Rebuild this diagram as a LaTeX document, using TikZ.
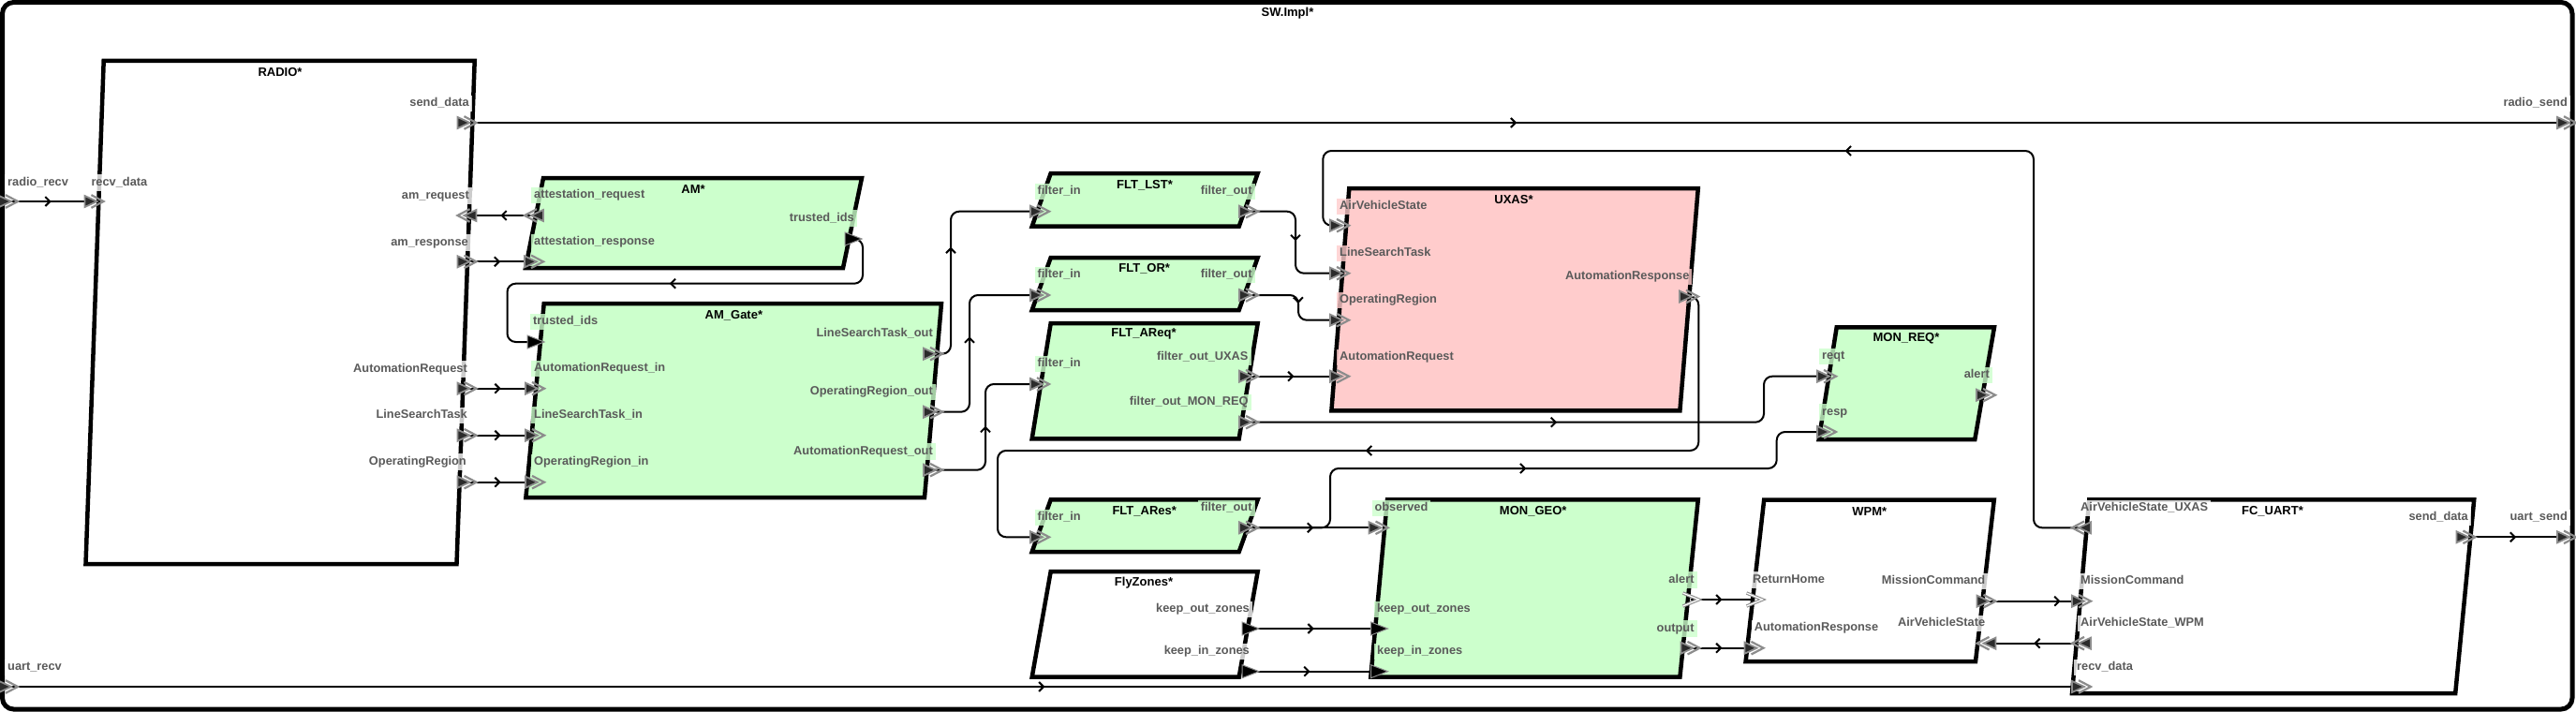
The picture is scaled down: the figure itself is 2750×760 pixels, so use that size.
\documentclass[tikz,border=0pt]{standalone}
\usepackage{fontspec}
\setmainfont{Liberation Sans}
\usetikzlibrary{arrows.meta,decorations.markings}
\definecolor{boxgreen}{HTML}{CCFFCC}
\definecolor{boxpink}{HTML}{FFCCCC}
\definecolor{labgray}{HTML}{5A5A5A}
\definecolor{portgray}{HTML}{8C8C8C}
\definecolor{portdark}{HTML}{2B2B2B}
\tikzset{
  comp/.style={draw=black, line width=4.5pt, line join=miter, fill=#1},
  ttl/.style={font=\fontsize{13}{15}\selectfont\bfseries, text=black, inner sep=0pt},
  plab/.style={font=\fontsize{12.8}{14}\selectfont\bfseries, text=labgray, fill=#1, fill opacity=0.8, text opacity=1, inner xsep=3pt, inner ysep=2.5pt, text height=9.5pt, text depth=3pt},
  labL/.style={plab=#1, anchor=west, xshift=-3pt},
  labR/.style={plab=#1, anchor=east, xshift=3pt},
  conn/.style={draw=black, line width=2pt, rounded corners=9pt},
  amark/.style={postaction={decorate, decoration={markings, mark=at position #1 with {\arrow{Straight Barb[length=5pt,width=10pt]}}}}},
  amark/.default=0.5,
  edp/.pic={
    \filldraw[fill=portdark, draw=portgray, line width=1.8pt, line join=miter] (-10,-6) -- (3,0) -- (-10,6) -- cycle;
    \draw[portgray, line width=2.2pt, line join=miter] (-3,-6.8) -- (10,0) -- (-3,6.8);
  },
  dp/.pic={
    \filldraw[fill=black, draw=portgray, line width=1pt, line join=miter] (-8,-7) -- (10,0) -- (-8,7) -- cycle;
  },
  ep/.pic={
    \draw[portgray, line width=3.4pt, line join=miter] (-8,-7) -- (9,0) -- (-8,7);
    \draw[white, line width=1.2pt, line join=miter] (-8,-7) -- (9,0) -- (-8,7);
  }
}
\begin{document}
\begin{tikzpicture}[x=1pt,y=-1pt]
\useasboundingbox (0,0) rectangle (2750,760);
% outer frame
\draw[line width=5pt, rounded corners=12pt] (2.5,2.5) rectangle (2746,757);
\node[ttl] (t-sw) at (1374.5,14) {SW.Impl*};

% components
\draw[comp=white] (110.7,65) -- (506.7,65) -- (487.5,602) -- (91.5,602) -- cycle;
\draw[comp=boxgreen] (580,190) -- (920,190) -- (900,286) -- (561,286) -- cycle;
\draw[comp=boxgreen] (580.7,324) -- (1005,324) -- (987,531) -- (561.4,531) -- cycle;
\draw[comp=boxgreen] (1121.7,185) -- (1342.7,185) -- (1322.7,241.7) -- (1101.7,241.7) -- cycle;
\draw[comp=boxgreen] (1121.7,275) -- (1342.7,275) -- (1322.7,331) -- (1101.7,331) -- cycle;
\draw[comp=boxgreen] (1121.7,345) -- (1342.7,345) -- (1322.7,468.3) -- (1101.7,468.3) -- cycle;
\draw[comp=boxgreen] (1121.7,533.3) -- (1342.7,533.3) -- (1322.7,589) -- (1101.7,589) -- cycle;
\draw[comp=white] (1121.7,610) -- (1342.7,610) -- (1322.7,722.7) -- (1101.7,722.7) -- cycle;
\draw[comp=boxpink] (1440.3,201) -- (1812.8,201) -- (1793.4,438.3) -- (1421.4,438.3) -- cycle;
\draw[comp=boxgreen] (1960.7,349.3) -- (2129,349.3) -- (2108.3,469) -- (1941.7,469) -- cycle;
\draw[comp=boxgreen] (1481,533.3) -- (1812.8,533.3) -- (1793.4,722.7) -- (1463.3,722.7) -- cycle;
\draw[comp=white] (1883.2,533.5) -- (2128.8,533.5) -- (2109,706) -- (1863.6,706) -- cycle;
\draw[comp=white] (2230.3,533.3) -- (2641.2,533.3) -- (2621.2,740) -- (2212,740) -- cycle;

% titles
\node[ttl] (t-radio) at (299,77) {RADIO*};
\node[ttl] (t-am) at (740,201.7) {AM*};
\node[ttl] (t-gate) at (783.4,336.7) {AM\_Gate*};
\node[ttl] (t-lst) at (1222,197.3) {FLT\_LST*};
\node[ttl] (t-or) at (1221.7,286.7) {FLT\_OR*};
\node[ttl] (t-areq) at (1221,356.7) {FLT\_AReq*};
\node[ttl] (t-ares) at (1221.7,545.7) {FLT\_ARes*};
\node[ttl] (t-fz) at (1221,622.3) {FlyZones*};
\node[ttl] (t-ux) at (1616,213.3) {UXAS*};
\node[ttl] (t-mr) at (2035,361) {MON\_REQ*};
\node[ttl] (t-mg) at (1636.7,545.7) {MON\_GEO*};
\node[ttl] (t-wpm) at (1995.8,545.7) {WPM*};
\node[ttl] (t-fc) at (2426,545.7) {FC\_UART*};

% port coordinates
\coordinate (sw-radiorecv) at (9,215);
\coordinate (sw-uartrecv) at (9,733);
\coordinate (sw-radiosend) at (2740,131);
\coordinate (sw-uartsend) at (2740,573.3);
\coordinate (radio-recv) at (100.5,215);
\coordinate (radio-send) at (498.5,131);
\coordinate (radio-amreq) at (498.5,230);
\coordinate (radio-amresp) at (498.5,279.3);
\coordinate (radio-ar) at (498.5,414.7);
\coordinate (radio-lst) at (498.5,464.7);
\coordinate (radio-or) at (498.5,514.7);
\coordinate (am-req) at (570,230);
\coordinate (am-resp) at (570,279.3);
\coordinate (am-tid) at (910,255);
\coordinate (gate-tid) at (571,365);
\coordinate (gate-arin) at (571,414.7);
\coordinate (gate-lstin) at (571,464.7);
\coordinate (gate-orin) at (571,514.7);
\coordinate (gate-lstout) at (996,377.7);
\coordinate (gate-orout) at (996,439.7);
\coordinate (gate-arout) at (996,501.7);
\coordinate (lst-in) at (1110,225.7);
\coordinate (lst-out) at (1333,225.7);
\coordinate (or-in) at (1110,315);
\coordinate (or-out) at (1333,315);
\coordinate (areq-in) at (1110,410);
\coordinate (areq-ux) at (1333,401.7);
\coordinate (areq-mr) at (1333,450.7);
\coordinate (ares-in) at (1110,573.3);
\coordinate (ares-out) at (1333,563.3);
\coordinate (fz-ko) at (1334,671);
\coordinate (fz-ki) at (1334,716.7);
\coordinate (ux-avs) at (1430,240.7);
\coordinate (ux-lst) at (1430,291.7);
\coordinate (ux-or) at (1430,341.7);
\coordinate (ux-ar) at (1430,401.7);
\coordinate (ux-ares) at (1803,316.5);
\coordinate (mr-reqt) at (1950,401.7);
\coordinate (mr-resp) at (1950,461);
\coordinate (mr-alert) at (2120,421.7);
\coordinate (mg-obs) at (1471.5,563.3);
\coordinate (mg-ko) at (1471.5,671);
\coordinate (mg-ki) at (1471.5,716.7);
\coordinate (mg-alert) at (1804.5,640);
\coordinate (mg-out) at (1804.5,691.7);
\coordinate (wpm-rh) at (1872.5,640);
\coordinate (wpm-ar) at (1872.5,691.7);
\coordinate (wpm-mc) at (2120.5,641.7);
\coordinate (wpm-avs) at (2120.5,686.7);
\coordinate (fc-avsux) at (2222,563.3);
\coordinate (fc-mc) at (2222,641.7);
\coordinate (fc-avswpm) at (2222,686.7);
\coordinate (fc-recv) at (2222,733);
\coordinate (fc-send) at (2632.4,573.3);

% connectors
\draw[conn, amark] (sw-radiorecv) -- (radio-recv);
\draw[conn, amark] (radio-send) -- (sw-radiosend);
\draw[conn, amark] (am-req) -- (radio-amreq);
\draw[conn, amark] (radio-amresp) -- (am-resp);
\draw[conn, amark] (radio-ar) -- (gate-arin);
\draw[conn, amark] (radio-lst) -- (gate-lstin);
\draw[conn, amark] (radio-or) -- (gate-orin);
\draw[conn, amark] (am-tid) -- (921,255) -- (921,302.7) -- (541.5,302.7) -- (541.5,365) -- (gate-tid);
\draw[conn, amark] (gate-lstout) -- (1015,377.7) -- (1015,225.7) -- (lst-in);
\draw[conn, amark] (gate-orout) -- (1035,439.7) -- (1035,315) -- (or-in);
\draw[conn, amark] (gate-arout) -- (1052,501.7) -- (1052,410) -- (areq-in);
\draw[conn, amark] (lst-out) -- (1383,225.7) -- (1383,291.7) -- (ux-lst);
\draw[conn, amark] (or-out) -- (1386,315) -- (1386,341.7) -- (ux-or);
\draw[conn, amark] (areq-ux) -- (ux-ar);
\draw[conn, amark] (areq-mr) -- (1883,450.7) -- (1883,401.7) -- (mr-reqt);
\draw[conn, amark] (ux-ares) -- (1813.3,316.5) -- (1813.3,481) -- (1065,481) -- (1065,573.3) -- (ares-in);
\draw[conn, amark] (ares-out) -- (mg-obs);
\draw[conn, amark] (ares-out) -- (1420,563.3) -- (1420,500) -- (1896.7,500) -- (1896.7,461) -- (mr-resp);
\draw[conn, amark] (fc-avsux) -- (2171,563.3) -- (2171,161) -- (1412.3,161) -- (1412.3,240.7) -- (ux-avs);
\draw[conn, amark] (fz-ko) -- (mg-ko);
\draw[conn, amark=0.47] (fz-ki) -- (mg-ki);
\draw[conn, amark] (mg-alert) -- (wpm-rh);
\draw[conn, amark] (mg-out) -- (wpm-ar);
\draw[conn, amark=0.78] (wpm-mc) -- (fc-mc);
\draw[conn, amark] (fc-avswpm) -- (wpm-avs);
\draw[conn, amark] (sw-uartrecv) -- (fc-recv);
\draw[conn, amark] (fc-send) -- (sw-uartsend);

% port labels
\node[labL=white] (l-radiorecv) at (8,195) {radio\_recv};
\node[labL=white] (l-uartrecv) at (8,712.7) {uart\_recv};
\node[labR=white] (l-radiosend) at (2741,110.7) {radio\_send};
\node[labR=white] (l-uartsend) at (2741,552.7) {uart\_send};

\node[labL=white] (l-radio-recv) at (97.3,195) {recv\_data};
\node[labR=white] (l-radio-send) at (501,110.7) {send\_data};
\node[labR=white] (l-radio-amreq) at (501,209) {am\_request};
\node[labR=white] (l-radio-amresp) at (500,259) {am\_response};
\node[labR=white] (l-radio-ar) at (499,394) {AutomationRequest};
\node[labR=white] (l-radio-lst) at (499,443.3) {LineSearchTask};
\node[labR=white] (l-radio-or) at (498,493) {OperatingRegion};

\node[labL=boxgreen] (l-am-req) at (570,208.7) {attestation\_request};
\node[labL=boxgreen] (l-am-resp) at (570,258.7) {attestation\_response};
\node[labR=boxgreen] (l-am-tid) at (912,233) {trusted\_ids};

\node[labL=boxgreen] (l-gate-tid) at (569,343.7) {trusted\_ids};
\node[labL=boxgreen] (l-gate-arin) at (570,393.7) {AutomationRequest\_in};
\node[labL=boxgreen] (l-gate-lstin) at (570,443) {LineSearchTask\_in};
\node[labL=boxgreen] (l-gate-orin) at (570,493.7) {OperatingRegion\_in};
\node[labR=boxgreen] (l-gate-lstout) at (996,356.7) {LineSearchTask\_out};
\node[labR=boxgreen] (l-gate-orout) at (996,418.7) {OperatingRegion\_out};
\node[labR=boxgreen] (l-gate-arout) at (996,482) {AutomationRequest\_out};

\node[labL=boxgreen] (l-lst-in) at (1107.3,204.3) {filter\_in};
\node[labR=boxgreen] (l-lst-out) at (1336.7,204.3) {filter\_out};
\node[labL=boxgreen] (l-or-in) at (1107.3,293.3) {filter\_in};
\node[labR=boxgreen] (l-or-out) at (1336.7,293.3) {filter\_out};
\node[labL=boxgreen] (l-areq-in) at (1107.3,388.7) {filter\_in};
\node[labR=boxgreen] (l-areq-ux) at (1332.7,381.7) {filter\_out\_UXAS};
\node[labR=boxgreen] (l-areq-mr) at (1332.7,429.3) {filter\_out\_MON\_REQ};
\node[labL=boxgreen] (l-ares-in) at (1107.3,552.3) {filter\_in};
\node[labR=boxgreen] (l-ares-out) at (1336.7,542.3) {filter\_out};

\node[labR=white] (l-fz-ko) at (1334,650.7) {keep\_out\_zones};
\node[labR=white] (l-fz-ki) at (1334,695.7) {keep\_in\_zones};

\node[labL=boxpink] (l-ux-avs) at (1430,220.7) {AirVehicleState};
\node[labL=boxpink] (l-ux-lst) at (1430,270.7) {LineSearchTask};
\node[labL=boxpink] (l-ux-or) at (1430,320.7) {OperatingRegion};
\node[labL=boxpink] (l-ux-ar) at (1430,381.7) {AutomationRequest};
\node[labR=boxpink] (l-ux-ares) at (1803.6,295.7) {AutomationResponse};

\node[labL=boxgreen] (l-mr-reqt) at (1945,380.7) {reqt};
\node[labL=boxgreen] (l-mr-resp) at (1945,440) {resp};
\node[labR=boxgreen] (l-mr-alert) at (2124,400.7) {alert};

\node[labL=boxgreen] (l-mg-obs) at (1467.3,542.7) {observed};
\node[labL=boxgreen] (l-mg-ko) at (1470,650.7) {keep\_out\_zones};
\node[labL=boxgreen] (l-mg-ki) at (1470,695.7) {keep\_in\_zones};
\node[labR=boxgreen] (l-mg-alert) at (1808.7,619) {alert};
\node[labR=boxgreen] (l-mg-out) at (1808.7,671) {output};

\node[labL=white] (l-wpm-rh) at (1871,619) {ReturnHome};
\node[labL=white] (l-wpm-ar) at (1872.7,670.7) {AutomationResponse};
\node[labR=white] (l-wpm-mc) at (2119.4,620.7) {MissionCommand};
\node[labR=white] (l-wpm-avs) at (2119.4,665.7) {AirVehicleState};

\node[labL=white] (l-fc-avsux) at (2221,542.7) {AirVehicleState\_UXAS};
\node[labL=white] (l-fc-mc) at (2221,620.7) {MissionCommand};
\node[labL=white] (l-fc-avswpm) at (2221,665.7) {AirVehicleState\_WPM};
\node[labL=white] (l-fc-recv) at (2217,712.7) {recv\_data};
\node[labR=white] (l-fc-send) at (2635,552.7) {send\_data};

% port glyphs
\foreach \p in {sw-radiorecv, sw-uartrecv, sw-radiosend, sw-uartsend,
  radio-recv, radio-send, radio-amresp, radio-ar, radio-lst, radio-or,
  am-resp, gate-arin, gate-lstin, gate-orin, gate-lstout, gate-orout, gate-arout,
  lst-in, lst-out, or-in, or-out, areq-in, areq-ux, areq-mr, ares-in, ares-out,
  ux-avs, ux-lst, ux-or, ux-ar, ux-ares, mr-reqt, mr-resp, mr-alert,
  mg-obs, mg-out, wpm-ar, wpm-mc, fc-mc, fc-recv, fc-send}
  {\pic at (\p) {edp};}
\foreach \p in {radio-amreq, am-req, wpm-avs, fc-avsux, fc-avswpm}
  {\pic[xscale=-1] at (\p) {edp};}
\foreach \p in {am-tid, gate-tid, fz-ko, fz-ki, mg-ko, mg-ki}
  {\pic at (\p) {dp};}
\foreach \p in {mg-alert, wpm-rh}
  {\pic at (\p) {ep};}
\end{tikzpicture}
\end{document}
